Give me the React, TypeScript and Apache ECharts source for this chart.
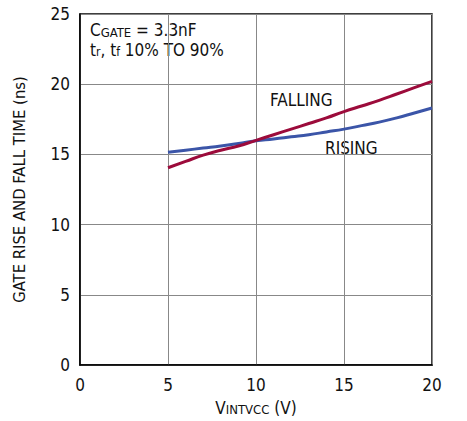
import React, { useEffect, useRef } from "react";
import * as echarts from "echarts";

const xValues = [5, 6, 7, 8, 9, 10, 11, 12, 13, 14, 15, 16, 17, 18, 19, 20];
const falling = [14.05, 14.5, 14.95, 15.3, 15.6, 16.0, 16.4, 16.8, 17.2, 17.6, 18.05, 18.45, 18.85, 19.3, 19.75, 20.2];
const rising = [15.15, 15.3, 15.45, 15.6, 15.78, 15.98, 16.1, 16.25, 16.4, 16.6, 16.8, 17.05, 17.3, 17.6, 17.95, 18.3];
const xTicks = [0, 5, 10, 15, 20];
const yTicks = [0, 5, 10, 15, 20, 25];

const FONT = "'Liberation Sans Narrow', 'DejaVu Sans Condensed', 'Liberation Sans', sans-serif";

export default function App() {
  const ref = useRef<HTMLDivElement>(null);
  useEffect(() => {
    const chart = echarts.init(ref.current!, null, { renderer: "svg" });
    chart.setOption({
      animation: false,
      backgroundColor: "#ffffff",
      textStyle: { fontFamily: FONT },
      grid: {
        left: 80, right: 35, top: 14, bottom: 56,
        outerBoundsMode: "none",
        containLabel: false,
        show: true, borderColor: "#000", borderWidth: 1.5,
      },
      xAxis: {
        type: "value", min: xTicks[0], max: xTicks[xTicks.length - 1], interval: 5,
        axisLine: { show: true, lineStyle: { color: "#000", width: 1.5 } },
        axisTick: { show: false },
        splitLine: { show: true, lineStyle: { color: "#888", width: 1 } },
        axisLabel: { color: "#111", fontSize: 17, fontFamily: FONT, margin: 11 },
        name: "V{sub|INTVCC} (V)",
        nameLocation: "middle",
        nameGap: 34,
        nameTextStyle: {
          color: "#111", fontSize: 17, fontFamily: FONT,
          rich: { sub: { fontSize: 13, fontFamily: FONT, color: "#111", verticalAlign: "bottom", padding: [4, 0, 0, 0] } },
        },
      },
      yAxis: {
        type: "value", min: yTicks[0], max: yTicks[yTicks.length - 1], interval: 5,
        axisLine: { show: true, lineStyle: { color: "#000", width: 1.5 } },
        axisTick: { show: false },
        splitLine: { show: true, lineStyle: { color: "#888", width: 1 } },
        axisLabel: { color: "#111", fontSize: 17, fontFamily: FONT, margin: 10 },
        name: "GATE RISE AND FALL TIME (ns)",
        nameLocation: "middle",
        nameGap: 52,
        nameTextStyle: { color: "#111", fontSize: 16.5, fontFamily: FONT },
      },
      series: [
        {
          type: "line", name: "RISING", smooth: true, symbol: "none",
          data: xValues.map((x, i) => [x, rising[i]]),
          lineStyle: { color: "#3b55a8", width: 3 },
          z: 3,
        },
        {
          type: "line", name: "FALLING", smooth: true, symbol: "none",
          data: xValues.map((x, i) => [x, falling[i]]),
          lineStyle: { color: "#9c0b3b", width: 3 },
          z: 4,
        },
      ],
      graphic: [
        {
          type: "text", left: 90, top: 21,
          style: {
            text: "C{sub|GATE} = 3.3nF",
            fontSize: 17, fontFamily: FONT, fill: "#111",
            rich: { sub: { fontSize: 13, fontFamily: FONT, fill: "#111", verticalAlign: "bottom", padding: [5, 0, 0, 0] } },
          },
        },
        {
          type: "text", left: 90, top: 41,
          style: {
            text: "t{sub|r}, t{sub|f} 10% TO 90%",
            fontSize: 17, fontFamily: FONT, fill: "#111",
            rich: { sub: { fontSize: 12, fontFamily: FONT, fill: "#111", verticalAlign: "bottom", padding: [5, 0, 0, 0] } },
          },
        },
        {
          type: "text", left: 270, top: 91,
          style: { text: "FALLING", fontSize: 17, fontFamily: FONT, fill: "#111" },
        },
        {
          type: "text", left: 322, top: 139,
          style: {
            text: "RISING", fontSize: 17, fontFamily: FONT, fill: "#111",
            backgroundColor: "#fff", padding: [0, 3, 0, 3],
          },
        },
      ],
    });
    return () => chart.dispose();
  }, []);
  return <div ref={ref} style={{ position: "fixed", left: 0, top: 0, width: 467, height: 421 }} />;
}
